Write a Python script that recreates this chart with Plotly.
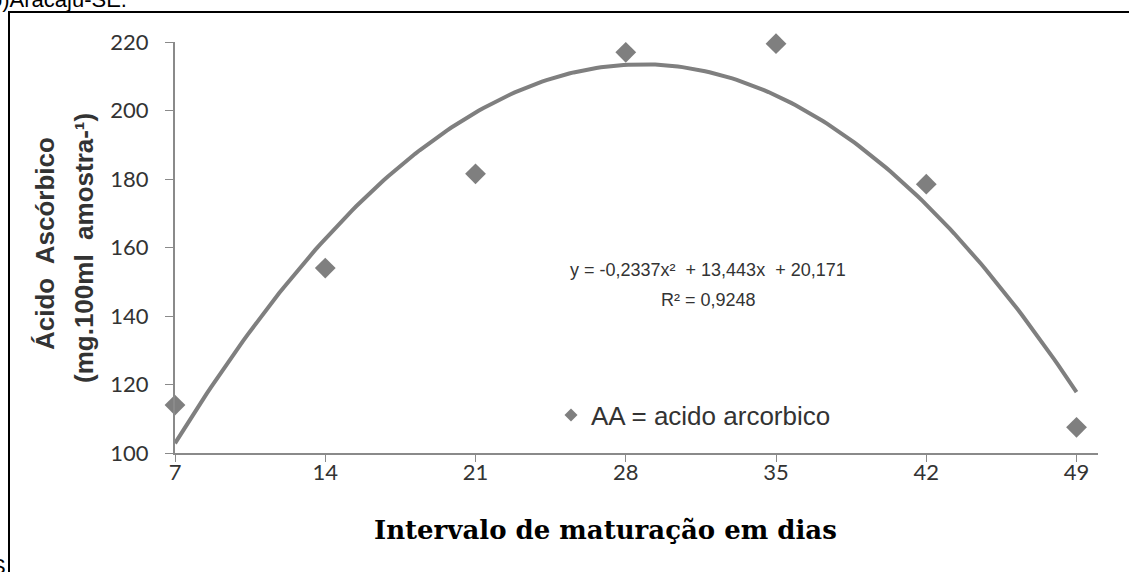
import numpy as np
import plotly.graph_objects as go

# Data
dias = [7, 14, 21, 28, 35, 42, 49]
acido_ascorbico = [114, 154, 181.5, 217, 219.5, 178.5, 107.5]
x_ticks = [7, 14, 21, 28, 35, 42, 49]
y_ticks = [100, 120, 140, 160, 180, 200, 220]
# trendline coefficients as printed on the chart (a, b, c for a*x^2 + b*x + c)
trend_coef = [-0.2337, 13.443, 20.171]

W, H = 1129, 572
L, R, T, B = 175, 31, 42, 119
pw, ph = W - L - R, H - T - B

def px(xp):
    return (xp - L) / pw

def py(yp):
    return (H - B - yp) / ph

xs = np.linspace(min(dias), max(dias), 200)
ys = np.polyval(trend_coef, xs)

gray = "#7f7f7f"
axis_gray = "#8a8a8a"
txt = "#333333"

fig = go.Figure()
fig.add_trace(go.Scatter(x=dias, y=acido_ascorbico, mode="markers",
                         marker=dict(symbol="diamond", size=16, color=gray),
                         showlegend=False, cliponaxis=False))
fig.add_trace(go.Scatter(x=xs, y=ys, mode="lines",
                         line=dict(color=gray, width=4),
                         showlegend=False, cliponaxis=False))
fig.add_trace(go.Scatter(x=[None], y=[None], mode="markers",
                         marker=dict(symbol="diamond", size=10, color=gray),
                         name="AA = acido arcorbico", showlegend=True))

fig.update_layout(
    width=W, height=H,
    margin=dict(l=L, r=R, t=T, b=B),
    paper_bgcolor="white", plot_bgcolor="white",
    showlegend=True,
    legend=dict(x=px(551), y=py(415), xanchor="left", yanchor="middle",
                font=dict(family="Liberation Sans, Arial", size=26, color=txt),
                bgcolor="rgba(0,0,0,0)", itemwidth=30),
    xaxis=dict(range=[7, 50], tickvals=x_ticks, ticktext=[str(v) for v in x_ticks],
               showgrid=False, zeroline=False, showline=True, linecolor=axis_gray, linewidth=2,
               ticks="outside", ticklen=7, tickwidth=1, tickcolor=axis_gray,
               ticklabelstandoff=-8,
               tickfont=dict(family="Lato", size=22, color=txt)),
    yaxis=dict(range=[100, 220], tickvals=y_ticks,
               showgrid=False, zeroline=False, showline=True, linecolor=axis_gray, linewidth=2,
               ticks="outside", ticklen=8, tickwidth=1, tickcolor=axis_gray,
               ticklabelstandoff=12,
               tickfont=dict(family="Lato", size=22, color=txt)),
)

ann = []
ann.append(dict(x=px(708), y=py(270), xref="paper", yref="paper", showarrow=False,
                text="y = -0,2337x²  + 13,443x  + 20,171",
                font=dict(family="Liberation Sans, Arial", size=18, color=txt),
                xanchor="center", yanchor="middle"))
ann.append(dict(x=px(708), y=py(300), xref="paper", yref="paper", showarrow=False,
                text="R² = 0,9248",
                font=dict(family="Liberation Sans, Arial", size=18, color=txt),
                xanchor="center", yanchor="middle"))
ann.append(dict(x=px(45), y=py(244), xref="paper", yref="paper", showarrow=False,
                text="<b>Ácido  Ascórbico</b>", textangle=-90,
                font=dict(family="Liberation Sans, Arial", size=26, color=txt),
                xanchor="center", yanchor="middle"))
ann.append(dict(x=px(84), y=py(248), xref="paper", yref="paper", showarrow=False,
                text="<b>(mg.100ml  amostra-¹)</b>", textangle=-90,
                font=dict(family="Liberation Sans, Arial", size=26, color=txt),
                xanchor="center", yanchor="middle"))
ann.append(dict(x=px(605), y=py(530), xref="paper", yref="paper", showarrow=False,
                text="<b>Intervalo de maturação em dias</b>",
                font=dict(family="DejaVu Serif", size=26, color="black"),
                xanchor="center", yanchor="middle"))
ann.append(dict(x=px(129), y=py(0), xref="paper", yref="paper", showarrow=False,
                text="o)Aracaju-SE.",
                font=dict(family="Liberation Sans, Arial", size=22, color="black"),
                xanchor="right", yanchor="middle"))
ann.append(dict(x=px(8), y=py(566), xref="paper", yref="paper", showarrow=False,
                text="S",
                font=dict(family="Liberation Sans, Arial", size=22, color="black"),
                xanchor="right", yanchor="middle"))
fig.update_layout(annotations=ann)

fig.add_shape(type="rect", xref="paper", yref="paper",
              x0=px(9), x1=px(1200), y0=py(640), y1=py(12),
              line=dict(color="black", width=2), fillcolor="rgba(0,0,0,0)")

fig.write_html("out.html", config={"displayModeBar": False},
               post_script="document.body.style.margin='0px';document.body.style.overflow='hidden';")
